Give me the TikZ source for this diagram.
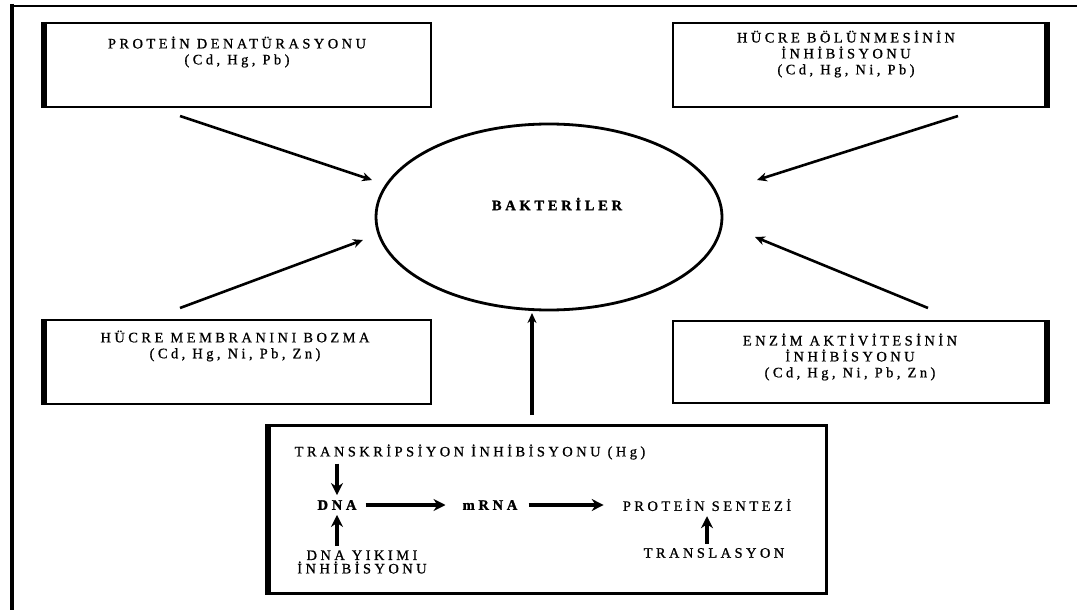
\documentclass[tikz,border=0pt]{standalone}
\usepackage{fontspec}
\setmainfont{Liberation Serif}
\newfontfamily\aralik[LetterSpace=24,FakeBold=0.9]{Liberation Serif}
\newfontfamily\kalinaralik[LetterSpace=26,FakeBold=1.6]{Liberation Serif Bold}
\usetikzlibrary{arrows.meta,positioning,shapes.geometric}
\begin{document}
\begin{tikzpicture}[x=1bp, y=-1bp, line join=miter, >={Stealth[length=10bp,width=9bp]},
		kutu/.style={draw, line width=1.8bp, anchor=north west, inner sep=0pt, minimum height=84bp},
		yazi/.style={align=center, inner sep=1pt, font=\aralik\fontsize{14.5}{16}\selectfont},
		kalin/.style={yazi, font=\kalinaralik\fontsize{14.5}{16}\selectfont},
		ok/.style={->, line width=2.6bp},
		icok/.style={-{Stealth[length=12bp,width=12bp]}, line width=3.4bp}]
					\useasboundingbox (0,0) rectangle (1081,610);
					\path 
					(180,116) coordinate (a1) (372,180) coordinate (b1)
					(958,116) coordinate (a2) (757,180) coordinate (b2)
					(180,308) coordinate (a3) (363,240) coordinate (b3)
					(928,308) coordinate (a4) (755,237) coordinate (b4)
					(532,415) coordinate (a5) (532,313) coordinate (b5)
					;
					\draw[line width=2.4bp] (10,6) -- (1077,6);
					\draw[line width=4.5bp] (12,4) -- (12,610);
					\node[kutu, minimum width=386bp] (protein) at (44,22) {};
					\node[kutu, minimum width=373bp] (bolunme) at (672,22) {};
					\node[kutu, minimum width=386bp] (membran) at (44,319) {};
					\node[kutu, minimum width=373bp, minimum height=82bp] (enzim) at (672,320) {};
					\node[kutu, line width=2.8bp, minimum width=557bp, minimum height=168bp] (alt) at (268,424) {};
					\draw[line width=5.5bp] (protein.north west) -- (protein.south west);
					\draw[line width=5.5bp] (membran.north west) -- (membran.south west);
					\draw[line width=5.5bp] (bolunme.north east) -- (bolunme.south east);
					\draw[line width=5.5bp] (enzim.north east) -- (enzim.south east);
					\draw[line width=6bp] (alt.north west) -- (alt.south west);
					\node[yazi] (proteinyazi) at (237,52) {PROTEİN DENATÜRASYONU\\(Cd, Hg, Pb)};
					\node[yazi] (bolunmeyazi) at (846,54) {HÜCRE BÖLÜNMESİNİN\\İNHİBİSYONU\\(Cd, Hg, Ni, Pb)};
					\node[yazi] (membranyazi) at (235,346) {HÜCRE MEMBRANINI BOZMA\\(Cd, Hg, Ni, Pb, Zn)};
					\node[yazi] (enzimyazi) at (850,357) {ENZİM AKTİVİTESİNİN\\İNHİBİSYONU\\(Cd, Hg, Ni, Pb, Zn)};
					\node[draw, ellipse, line width=2.8bp, minimum width=346bp, minimum height=186bp] (bakteri) at (549,217) {};
					\node[kalin] (bakteriyazi) at (557,204) {BAKTERİLER};
					\node[yazi] (trans) at (470,452) {TRANSKRİPSİYON İNHİBİSYONU (Hg)};
					\node[kalin] (dna) at (337,505) {DNA};
					\node[kalin] (mrna) at (490,505) {mRNA};
					\node[yazi] (sentez) at (707,505) {PROTEİN SENTEZİ};
					\node[yazi, font=\aralik\fontsize{14.5}{13.5}\selectfont] (yikim) at (362,562) {DNA YIKIMI\\İNHİBİSYONU};
					\node[yazi] (translasyon) at (714,553) {TRANSLASYON};
					\foreach \i in {1,...,4}
					\draw[ok] (a\i) -- (b\i);
					\draw[ok, line width=3.6bp] (a5) -- (b5);
					\draw[icok, shorten <=3bp, shorten >=4bp] (trans.south -| dna) -- (dna.north);
					\draw[icok, shorten <=3bp, shorten >=4bp] (yikim.north -| dna) -- (dna.south);
					\draw[icok, shorten <=8bp, shorten >=16bp] (dna) -- (mrna);
					\draw[icok, shorten <=10bp, shorten >=18bp] (mrna) -- (sentez);
					\draw[icok, shorten <=3bp, shorten >=4bp] (translasyon.north -| sentez) -- (sentez.south);
				\end{tikzpicture}
\end{document}
